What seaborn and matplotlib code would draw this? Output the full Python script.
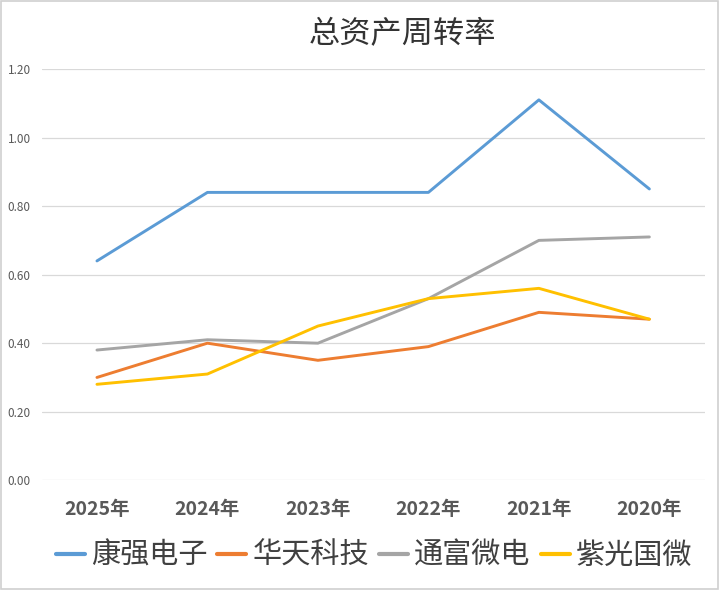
import pandas as pd
import matplotlib
matplotlib.use("Agg")
import matplotlib.pyplot as plt
import matplotlib.ticker as mticker
from matplotlib.patches import Rectangle
import seaborn as sns

# ─── Datos ───────────────────────────────────────────────
years = ["2025年", "2024年", "2023年", "2022年", "2021年", "2020年"]
companies = ["康强电子", "华天科技", "通富微电", "紫光国微"]
kangqiang = [0.64, 0.84, 0.84, 0.84, 1.11, 0.85]
huatian = [0.30, 0.40, 0.35, 0.39, 0.49, 0.47]
tongfu = [0.38, 0.41, 0.40, 0.53, 0.70, 0.71]
ziguang = [0.28, 0.31, 0.45, 0.53, 0.56, 0.47]

colors = ["#5B9BD5", "#ED7D31", "#A5A5A5", "#FFC000"]

rows = []
for name, vals in zip(companies, [kangqiang, huatian, tongfu, ziguang]):
    for i, (y, v) in enumerate(zip(years, vals)):
        rows.append({"year": y, "pos": i, "company": name, "value": v})
df = pd.DataFrame(rows)

# ─── Estilo ──────────────────────────────────────────────
sns.set_theme(style="white")
plt.rcParams["font.family"] = ["Noto Sans CJK SC", "DejaVu Sans"]

fig = plt.figure(figsize=(7.19, 5.9), dpi=100)
ax = fig.add_axes([0.058, 0.186, 0.922, 0.697])

sns.lineplot(data=df, x="pos", y="value", hue="company",
             hue_order=companies, palette=colors, linewidth=2.1,
             ax=ax, legend=False)

ax.set_xlim(-0.5, 5.5)
ax.set_ylim(0, 1.2)
ax.yaxis.set_major_locator(mticker.MultipleLocator(0.2))
ax.yaxis.set_major_formatter(mticker.FuncFormatter(lambda v, _: f"{v:.2f}"))
ax.set_xticks(range(len(years)))
ax.set_xticklabels(years, fontsize=14, fontweight="bold", color="#595959")
ax.tick_params(axis="y", labelsize=8.5, colors="#595959", length=0, pad=8)
ax.tick_params(axis="x", length=0, pad=14)
ax.grid(axis="y", color="#d9d9d9", linewidth=0.9)
for s in ax.spines.values():
    s.set_visible(False)
ax.set_xlabel("")
ax.set_ylabel("")

fig.text(0.56, 0.943, "总资产周转率", ha="center", va="center",
         fontsize=22.5, color="#333333")

handles = [plt.Line2D([], [], color=c, linewidth=3) for c in colors]
fig.legend(handles, companies, loc="center", bbox_to_anchor=(0.52, 0.058),
           ncol=4, frameon=False, fontsize=21, handlelength=1.0,
           handletextpad=0.2, columnspacing=0.35, labelcolor="#404040")

fig.patches.append(Rectangle((0.002, 0.002), 0.996, 0.996, transform=fig.transFigure,
                             fill=False, edgecolor="#d0d0d0", linewidth=1.2))

fig.savefig("out.png", dpi=100)
